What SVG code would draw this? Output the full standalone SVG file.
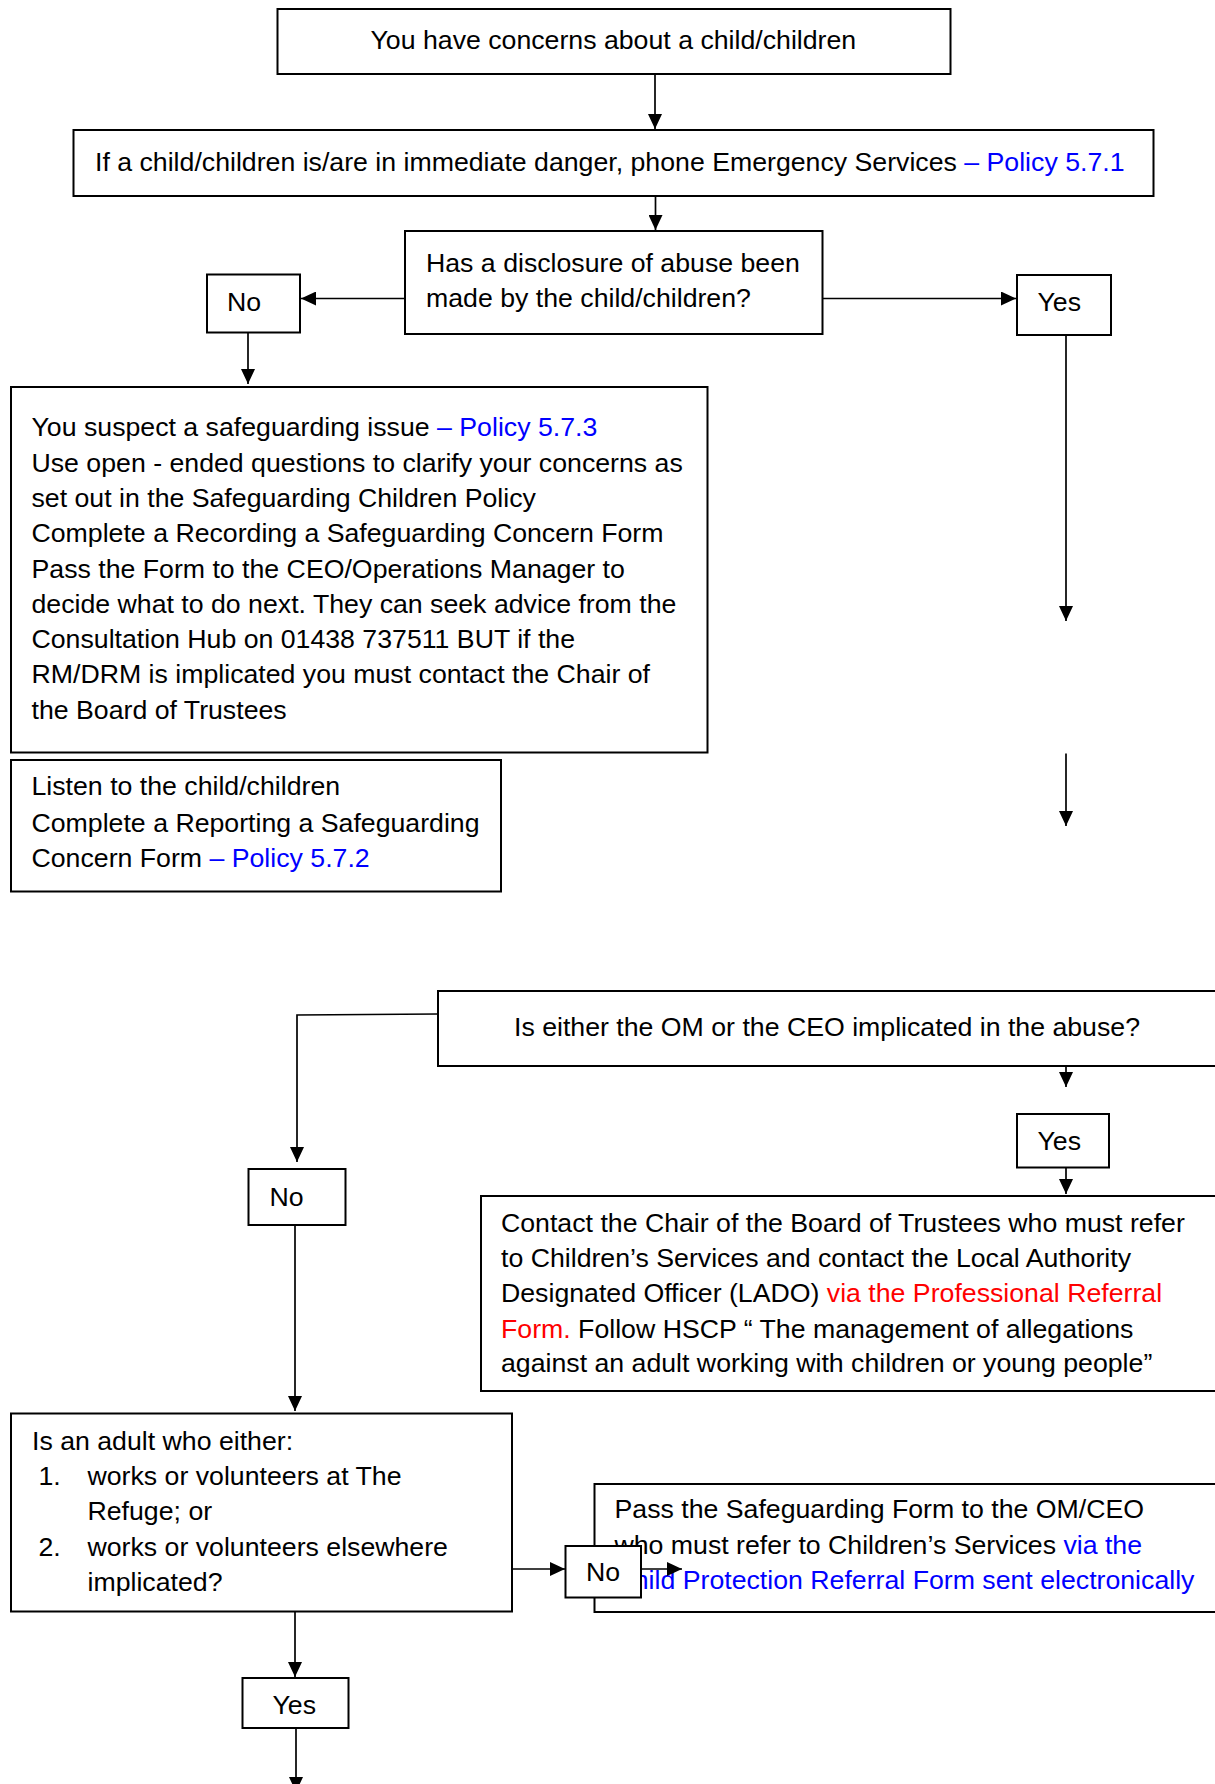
<svg xmlns="http://www.w3.org/2000/svg" width="1215" height="1784" viewBox="0 0 1215 1784">
<style>
text{font-family:"Liberation Sans",Arial,sans-serif;font-size:26.7px;fill:#000}
.b{fill:#0000ff}
.r{fill:#ff0000}
rect{fill:#fff;stroke:#000;stroke-width:2}
.c path{fill:none;stroke:#000;stroke-width:1.7;marker-end:url(#ah)}
</style>
<defs>
<marker id="ah" viewBox="0 0 15 14" refX="15" refY="7" markerWidth="15" markerHeight="14" markerUnits="userSpaceOnUse" orient="auto">
<path d="M0,0 L15,7 L0,14 Z" fill="#000"/>
</marker>
</defs>
<rect x="0" y="0" width="1215" height="1784" style="stroke:none"/>
<g id="n1"><rect x="277.5" y="9" width="673" height="65"/><text x="370.5" y="49">You have concerns about a child/children</text></g>
<g id="n2"><rect x="73.5" y="130" width="1080" height="66"/><text x="95" y="171">If a child/children is/are in immediate danger, phone Emergency Services <tspan class="b">– Policy 5.7.1</tspan></text></g>
<g id="n3"><rect x="405" y="231" width="417.5" height="103"/><text x="426" y="272">Has a disclosure of abuse been</text><text x="426" y="307">made by the child/children?</text></g>
<g id="n4"><rect x="207" y="274.5" width="93" height="58"/><text x="227" y="311">No</text></g>
<g id="n5"><rect x="1017" y="275" width="94" height="60"/><text x="1037.5" y="311">Yes</text></g>
<g id="n6"><rect x="11" y="387" width="696.5" height="365.5"/>
<text x="31.5" y="436">You suspect a safeguarding issue <tspan class="b">– Policy 5.7.3</tspan></text>
<text x="31.5" y="471.5">Use open - ended questions to clarify your concerns as</text>
<text x="31.5" y="506.8">set out in the Safeguarding Children Policy</text>
<text x="31.5" y="542.2">Complete a Recording a Safeguarding Concern Form</text>
<text x="31.5" y="577.5">Pass the Form to the CEO/Operations Manager to</text>
<text x="31.5" y="612.8">decide what to do next. They can seek advice from the</text>
<text x="31.5" y="648">Consultation Hub on 01438 737511 BUT if the</text>
<text x="31.5" y="683.3">RM/DRM is implicated you must contact the Chair of</text>
<text x="31.5" y="718.5">the Board of Trustees</text></g>
<g id="n7"><rect x="11" y="760" width="490" height="131.5"/>
<text x="31.5" y="795">Listen to the child/children</text>
<text x="31.5" y="831.5">Complete a Reporting a Safeguarding</text>
<text x="31.5" y="866.8">Concern Form <tspan class="b">– Policy 5.7.2</tspan></text></g>
<g id="n8"><rect x="438" y="991" width="790" height="75"/><text x="514" y="1036">Is either the OM or the CEO implicated in the abuse?</text></g>
<g id="n9"><rect x="1017" y="1114" width="92" height="53.5"/><text x="1037.5" y="1149.5">Yes</text></g>
<g id="n10"><rect x="248.5" y="1169" width="97" height="56"/><text x="269.5" y="1206">No</text></g>
<g id="n11"><rect x="481" y="1196" width="747" height="195"/>
<text x="501" y="1231.7">Contact the Chair of the Board of Trustees who must refer</text>
<text x="501" y="1266.9">to Children’s Services and contact the Local Authority</text>
<text x="501" y="1302.2">Designated Officer (LADO) <tspan class="r">via the Professional Referral</tspan></text>
<text x="501" y="1337.5"><tspan class="r">Form.</tspan> Follow HSCP “ The management of allegations</text>
<text x="501" y="1372">against an adult working with children or young people”</text></g>
<g id="n12"><rect x="11" y="1413.5" width="501" height="198"/>
<text x="32" y="1449.5">Is an adult who either:</text>
<text x="38.5" y="1485">1.</text><text x="87.5" y="1485">works or volunteers at The</text>
<text x="87.5" y="1520.3">Refuge; or</text>
<text x="38.5" y="1555.6">2.</text><text x="87.5" y="1555.6">works or volunteers elsewhere</text>
<text x="87.5" y="1590.8">implicated?</text></g>
<g id="n13"><rect x="594.5" y="1484" width="633" height="128"/>
<text x="614.5" y="1518.3">Pass the Safeguarding Form to the OM/CEO</text>
<text x="614.5" y="1553.5">who must refer to Children’s Services <tspan class="b">via the</tspan></text>
<text x="614.5" y="1588.5" class="b">Child Protection Referral Form sent electronically</text></g>
<g id="n14"><rect x="565.5" y="1546" width="75.5" height="51.5"/><text x="586" y="1581">No</text></g>
<g id="n15"><rect x="242.5" y="1678" width="106" height="50"/><text x="272.5" y="1713.5">Yes</text></g>
<g class="c" id="connectors">
<path d="M655,74 V129"/>
<path d="M655.5,196 V230"/>
<path d="M405,298.5 H301"/>
<path d="M822.5,298.5 H1016"/>
<path d="M248,333 V384"/>
<path d="M1066,335 V621"/>
<path d="M1066,753.5 V826"/>
<path d="M1066,1066 V1087"/>
<path d="M1066,1168 V1194"/>
<path d="M438,1014 L297,1015 V1162"/>
<path d="M295,1225 V1411"/>
<path d="M295,1612 V1677"/>
<path d="M512,1569 H565"/>
<path d="M641,1569 H682"/>
<path d="M296,1728 V1792"/>
</g>
</svg>
